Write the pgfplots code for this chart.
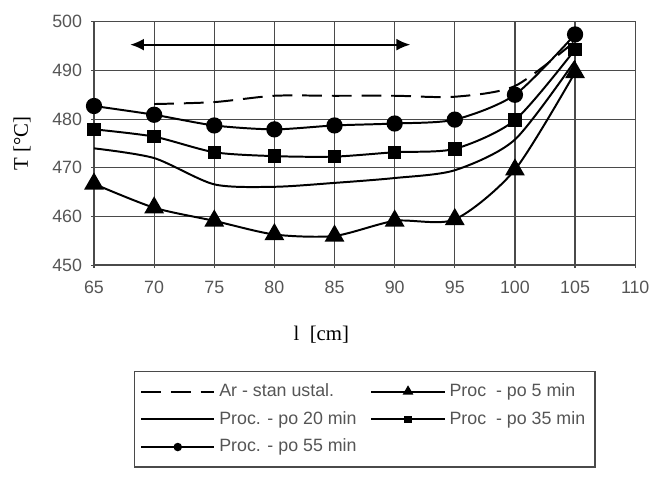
\documentclass[border=0pt]{standalone}
\usepackage{pgfplots}
\pgfplotsset{compat=1.18}
\usepackage{fontspec}
\setmainfont{Liberation Serif}
\setsansfont{Liberation Sans}
\usetikzlibrary{arrows.meta}
\definecolor{gridc}{HTML}{4A4A4A}
\definecolor{tickc}{HTML}{555555}

\begin{document}
\begin{tikzpicture}
\begin{axis}[
    width=273.5pt, height=123pt, scale only axis,
    xmin=65, xmax=110, ymin=450, ymax=500,
    xtick={65,70,...,110}, ytick={450,460,...,500},
    grid=major,
    major grid style={gridc, line width=0.6pt},
    axis line style={gridc, line width=0.7pt},
    tick style={gridc, line width=0.6pt},
    major tick length=3pt, tick align=center,
    xtick pos=left, ytick pos=left,
    ticklabel style={font=\sffamily\fontsize{9}{10}\selectfont, text=tickc},
    /pgf/number format/assume math mode=true,
    xticklabel style={yshift=-3pt},
    yticklabel style={xshift=-1pt},
    xlabel={l\ \ [cm]}, ylabel={T [\textdegree C]},
    label style={font=\rmfamily\fontsize{10.5}{12}\selectfont},
    xlabel style={at={(axis description cs:0.42,-0.285)}, anchor=center},
    ylabel style={at={(axis description cs:-0.133,0.5)}, anchor=center},
    legend columns=2,
    legend cell align=left,
    legend style={at={(axis description cs:0.0731,-0.435)}, anchor=north west,
        draw=gridc, line width=0.7pt, inner xsep=3pt, inner ysep=4pt,
        font=\sffamily\fontsize{9}{10}\selectfont, text=tickc,
        row sep=2pt,
        /tikz/every odd column/.append style={column sep=0pt},
        /tikz/every even column/.append style={column sep=5pt}},
    legend image code/.code={
        \draw[mark repeat=2, mark phase=2, #1, every mark/.append style={scale=0.45}]
            plot coordinates {(0pt,0pt) (18.5pt,0pt) (37pt,0pt)};},
    every axis plot/.append style={black, line width=1pt, smooth, tension=0.45},
]
\addplot[dashed, dash pattern=on 10pt off 5pt, mark=none] coordinates {
    (70,483.1) (75,483.5) (80,484.8) (85,484.8) (90,484.8) (95,484.6) (100,486.8) (105,496.0)};
\addlegendentry{Ar - stan ustal.}
\addplot[mark=triangle*, mark size=4.8pt, mark options={solid}] coordinates {
    (65,466.7) (70,461.8) (75,459.1) (80,456.3) (85,456.0) (90,459.1) (95,459.4) (100,469.6) (105,489.6)};
\addlegendentry{Proc\ \ - po 5 min}
\addplot[mark=none] coordinates {
    (65,474.0) (70,472.0) (75,466.6) (80,466.1) (85,466.9) (90,467.9) (95,469.5) (100,475.8) (105,492.0)};
\addlegendentry{Proc. - po 20 min}
\addplot[mark=square*, mark size=2.9pt] coordinates {
    (65,477.9) (70,476.4) (75,473.2) (80,472.4) (85,472.3) (90,473.2) (95,473.9) (100,479.8) (105,494.3)};
\addlegendentry{Proc\ \ - po 35 min}
\addplot[mark=*, mark size=3.6pt] coordinates {
    (65,482.7) (70,480.9) (75,478.7) (80,477.9) (85,478.7) (90,479.1) (95,479.9) (100,485.0) (105,497.4)};
\addlegendentry{Proc. - po 55 min}
\draw[line width=1pt, {Latex[length=7pt,width=6pt]}-{Latex[length=7pt,width=6pt]}]
    (axis cs:68.0,495.3) -- (axis cs:91.3,495.3);
\coordinate (bl) at (rel axis cs:0,0);
\end{axis}
\path[use as bounding box] (bl) ++(-47.5pt,-114.5pt) rectangle ++(328pt,248.5pt);
\end{tikzpicture}
\end{document}
